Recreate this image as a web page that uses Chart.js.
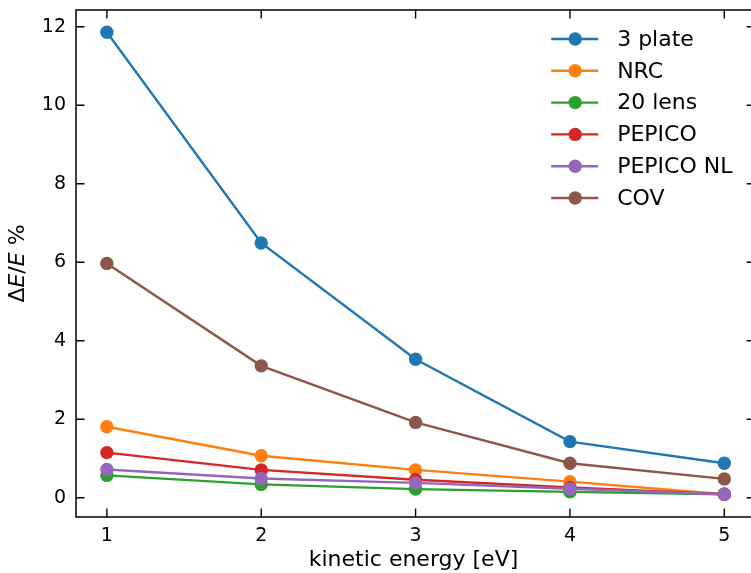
<!DOCTYPE html>
<html>
<head>
<meta charset="utf-8">
<script src="https://cdn.jsdelivr.net/npm/chart.js@4.4.0/dist/chart.umd.min.js"></script>
<style>
  html, body { margin: 0; padding: 0; background: #fff; }
  #wrap { width: 751px; height: 573px; }
</style>
</head>
<body>
<div id="wrap"><canvas id="myChart" width="751" height="573"></canvas></div>
<script>
// energy resolution vs kinetic energy for each analyser setup
const energies = [1, 2, 3, 4, 5];
const threePlate = [11.86, 6.49, 3.53, 1.43, 0.88];
const nrc = [1.81, 1.07, 0.71, 0.41, 0.09];
const lens20 = [0.57, 0.34, 0.22, 0.15, 0.09];
const pepico = [1.15, 0.71, 0.46, 0.26, 0.09];
const pepicoNL = [0.72, 0.49, 0.38, 0.23, 0.09];
const cov = [5.97, 3.36, 1.92, 0.88, 0.48];

const seriesNames = ['3 plate', 'NRC', '20 lens', 'PEPICO', 'PEPICO NL', 'COV'];
const seriesValues = [threePlate, nrc, lens20, pepico, pepicoNL, cov];
const seriesColors = ['#1f77b4', '#ff7f0e', '#2ca02c', '#d62728', '#9467bd', '#8c564b'];

const xTicks = [1, 2, 3, 4, 5];
const yTicks = [0, 2, 4, 6, 8, 10, 12];

const FONT = 'DejaVu Sans';
const LINE_W = 2.4;
const DOT_R = 6.7;

function makeDatasets() {
  var sets = [];
  for (var i = 0; i < seriesNames.length; i++) {
    sets.push({
      label: seriesNames[i],
      data: energies.map((e, k) => ({ x: e, y: seriesValues[i][k] })),
      borderColor: seriesColors[i],
      backgroundColor: seriesColors[i],
      borderWidth: LINE_W,
      pointRadius: DOT_R,
      pointHoverRadius: DOT_R,
      pointBorderWidth: 0,
      tension: 0,
      // later series sit on top, like the original plotting order
      order: seriesNames.length - i
    });
  }
  return sets;
}

// let the plot area run to the canvas edge (the right spine falls just outside)
const stretchPlugin = {
  id: 'stretchRight',
  afterLayout(chart) {
    const xs = chart.scales.x;
    const r = chart.width;
    xs.right = r;
    xs.width = r - xs.left;
    xs.configure();
    chart.chartArea.right = r;
    chart.chartArea.width = r - chart.chartArea.left;
  }
};

// frame with inward ticks on all four sides
const framePlugin = {
  id: 'frame',
  afterDatasetsDraw(chart) {
    const ctx = chart.ctx;
    const xs = chart.scales.x, ys = chart.scales.y;
    const left = chart.chartArea.left, top = chart.chartArea.top, bottom = chart.chartArea.bottom;
    const right = xs.getPixelForValue(5.2);
    const len = 8.5;
    ctx.save();
    ctx.strokeStyle = '#000';
    ctx.lineWidth = 1.5;
    ctx.strokeRect(left, top, right - left, bottom - top);
    ctx.lineWidth = 1.4;
    ctx.beginPath();
    xTicks.forEach(v => {
      const px = xs.getPixelForValue(v);
      ctx.moveTo(px, bottom); ctx.lineTo(px, bottom - len);
      ctx.moveTo(px, top); ctx.lineTo(px, top + len);
    });
    yTicks.forEach(v => {
      const py = ys.getPixelForValue(v);
      ctx.moveTo(left, py); ctx.lineTo(left + len, py);
      ctx.moveTo(right, py); ctx.lineTo(right - len, py);
    });
    ctx.stroke();
    ctx.restore();
  }
};

// y axis title with italic E, mathtext style
const yTitlePlugin = {
  id: 'yTitle',
  afterDraw(chart) {
    const ctx = chart.ctx;
    const parts = [
      { t: 'Δ', f: '22px "' + FONT + '"' },
      { t: 'E', f: 'italic 22px "' + FONT + '"' },
      { t: '/', f: '22px "' + FONT + '"' },
      { t: 'E', f: 'italic 22px "' + FONT + '"' },
      { t: ' %', f: '22px "' + FONT + '"' }
    ];
    ctx.save();
    var total = 0;
    parts.forEach(p => { ctx.font = p.f; p.w = ctx.measureText(p.t).width; total += p.w; });
    const cy = (chart.chartArea.top + chart.chartArea.bottom) / 2;
    ctx.translate(18, cy);
    ctx.rotate(-Math.PI / 2);
    ctx.fillStyle = '#000';
    ctx.textBaseline = 'middle';
    var x = -total / 2;
    parts.forEach(p => { ctx.font = p.f; ctx.fillText(p.t, x, 0); x += p.w; });
    ctx.restore();
  }
};

// legend in the upper right corner: line with marker, then the name
const legendPlugin = {
  id: 'lineLegend',
  afterDraw(chart) {
    const ctx = chart.ctx;
    const right = chart.scales.x.getPixelForValue(5.2);
    const x0 = right - 204;
    const y0 = chart.chartArea.top + 29;
    const step = 31.8;
    ctx.save();
    chart.data.datasets.forEach((ds, i) => {
      const y = y0 + i * step;
      ctx.strokeStyle = ds.borderColor;
      ctx.lineWidth = LINE_W;
      ctx.beginPath();
      ctx.moveTo(x0, y); ctx.lineTo(x0 + 47, y);
      ctx.stroke();
      ctx.fillStyle = ds.backgroundColor;
      ctx.beginPath();
      ctx.arc(x0 + 24, y, DOT_R, 0, Math.PI * 2);
      ctx.fill();
      ctx.fillStyle = '#000';
      ctx.font = '22px "' + FONT + '"';
      ctx.textBaseline = 'middle';
      ctx.fillText(ds.label, x0 + 66, y + 1);
    });
    ctx.restore();
  }
};

const ctx = document.getElementById('myChart').getContext('2d');
const myChart = new Chart(ctx, {
  type: 'line',
  data: { datasets: makeDatasets() },
  plugins: [stretchPlugin, framePlugin, yTitlePlugin, legendPlugin],
  options: {
    responsive: false,
    animation: false,
    events: [],
    layout: { padding: { top: 10, right: 0, left: 0, bottom: 0 } },
    plugins: {
      legend: { display: false },
      tooltip: { enabled: false }
    },
    scales: {
      x: {
        type: 'linear',
        min: 0.8,
        max: 5.173,
        afterBuildTicks: s => { s.ticks = xTicks.map(v => ({ value: v })); },
        afterFit: s => {
          s.height = 56;
          s.paddingLeft = 0; s.paddingRight = 0;
        },
        grid: { display: false, drawTicks: false },
        border: { display: false },
        ticks: {
          font: { family: FONT, size: 19 },
          color: '#000',
          padding: 8,
          maxRotation: 0,
          autoSkip: false
        },
        title: {
          display: true,
          text: 'kinetic energy [eV]',
          color: '#000',
          font: { family: FONT, size: 22 },
          padding: { top: 0, bottom: 0 }
        }
      },
      y: {
        type: 'linear',
        min: -0.49,
        max: 12.425,
        afterBuildTicks: s => { s.ticks = yTicks.map(v => ({ value: v })); },
        afterFit: s => {
          s.width = 76;
          s.paddingTop = 0; s.paddingBottom = 0;
        },
        grid: { display: false, drawTicks: false },
        border: { display: false },
        ticks: {
          font: { family: FONT, size: 19 },
          color: '#000',
          padding: 10,
          autoSkip: false
        }
      }
    }
  }
});
</script>
</body>
</html>
